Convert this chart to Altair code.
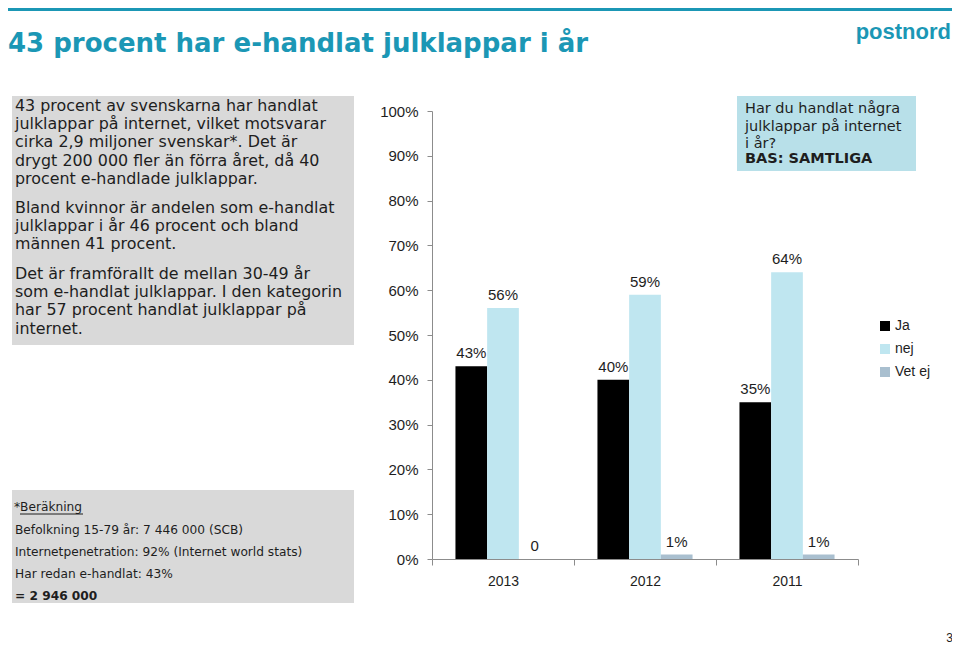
import altair as alt
import pandas as pd

# ---------------- data ----------------
years = ["2013", "2012", "2011"]
series = ["Ja", "nej", "Vet ej"]
ja_values = [43, 40, 35]
nej_values = [56, 59, 64]
vetej_values = [0, 1, 1]
y_ticks = [0, 10, 20, 30, 40, 50, 60, 70, 80, 90, 100]
series_colors = ["#000000", "#bfe6f0", "#a9bfcf"]

title_text = "43 procent har e-handlat julklappar i år"
logo_text = "postnord"
para1 = ["43 procent av svenskarna har handlat",
         "julklappar på internet, vilket motsvarar",
         "cirka 2,9 miljoner svenskar*. Det är",
         "drygt 200 000 fler än förra året, då 40",
         "procent e-handlade julklappar."]
para2 = ["Bland kvinnor är andelen som e-handlat",
         "julklappar i år 46 procent och bland",
         "männen 41 procent."]
para3 = ["Det är framförallt de mellan 30-49 år",
         "som e-handlat julklappar. I den kategorin",
         "har 57 procent handlat julklappar på",
         "internet."]
question_lines = ["Har du handlat några", "julklappar på internet", "i år?"]
question_base = "BAS: SAMTLIGA"
footer_head = "*Beräkning"
footer_lines = ["Befolkning 15-79 år: 7 446 000 (SCB)",
                "Internetpenetration: 92% (Internet world stats)",
                "Har redan e-handlat: 43%"]
footer_total = "= 2 946 000"
page_number = "3"

# ---------------- layout ----------------
OX, OY = 432, 111          # page position of plot origin
PW, PH = 426, 448          # plot area
CW, CH = 944, 636          # canvas
FONT = "Liberation Sans"
WIDE = "DejaVu Sans"
TEAL = "#1b97b5"
TXT = "#1e1e1e"

rows = []
for yi, yr in enumerate(years):
    for s, vals in zip(series, [ja_values, nej_values, vetej_values]):
        v = vals[yi]
        rows.append({"year": yr, "series": s, "value": v,
                     "label": "0" if v == 0 else f"{v}%"})
df = pd.DataFrame(rows)

xenc = alt.X("year:N", sort=years,
             scale=alt.Scale(paddingInner=0, paddingOuter=0),
             axis=alt.Axis(title=None, labelAngle=0, tickBand="extent",
                           tickSize=6, labelPadding=9, labelFontSize=14,
                           labelFont=FONT, labelColor=TXT,
                           domainColor="#8c8c8c", tickColor="#8c8c8c"))
xoff = alt.XOffset("series:N", sort=series,
                   scale=alt.Scale(paddingInner=0, paddingOuter=0.74))
yenc = alt.Y("value:Q", scale=alt.Scale(domain=[0, 100]),
             axis=alt.Axis(title=None, values=y_ticks, grid=False,
                           labelExpr="datum.value + '%'", tickSize=5,
                           labelPadding=9, labelFontSize=15, labelFont=FONT,
                           labelColor=TXT, domainColor="#8c8c8c",
                           tickColor="#8c8c8c"))

bars = alt.Chart(df).mark_bar().encode(
    x=xenc, xOffset=xoff, y=yenc,
    color=alt.Color("series:N", sort=series,
                    scale=alt.Scale(domain=series, range=series_colors),
                    legend=alt.Legend(orient="none", legendX=446, legendY=208,
                                      title=None, symbolType="square",
                                      symbolSize=100, symbolStrokeWidth=0,
                                      labelFontSize=14, labelFont=FONT,
                                      labelColor=TXT, rowPadding=9,
                                      labelOffset=3)))

labels = alt.Chart(df).mark_text(dy=-13, fontSize=15, font=FONT,
                                 color=TXT).encode(
    x=alt.X("year:N", sort=years), xOffset=alt.XOffset("series:N", sort=series),
    y="value:Q", text="label:N")


def one():
    return pd.DataFrame({"a": [0]})


def box(x1, y1, x2, y2, color):
    return alt.Chart(one()).mark_rect(color=color).encode(
        x=alt.value(x1 - OX), x2=alt.value(x2 - OX),
        y=alt.value(y1 - OY), y2=alt.value(y2 - OY))


def hline(x1, x2, y, color, width):
    return alt.Chart(one()).mark_rule(color=color, strokeWidth=width).encode(
        x=alt.value(x1 - OX), x2=alt.value(x2 - OX), y=alt.value(y - OY))


def text(lines, x, y, size, color=TXT, bold=False, align="left",
         lh=None, baseline="middle", font=WIDE):
    t = "\n".join(lines) if isinstance(lines, list) else lines
    kw = dict(fontSize=size, font=font, color=color, align=align,
              baseline=baseline, fontWeight="bold" if bold else "normal")
    if lh is not None:
        kw.update(lineBreak="\n", lineHeight=lh)
    return alt.Chart(pd.DataFrame({"t": [t]})).mark_text(**kw).encode(
        text="t:N", x=alt.value(x - OX), y=alt.value(y - OY))


layers = [
    hline(8, 952, 9.5, TEAL, 3),
    text(title_text, 8, 44, 26, color=TEAL, bold=True),
    text(logo_text, 951, 32, 22, color=TEAL, bold=True, align="right",
         font=FONT),
    box(12, 96, 354, 345, "#d9d9d9"),
    text(para1, 15, 111, 15.9, lh=18.2, baseline="alphabetic"),
    text(para2, 15, 213, 15.9, lh=18.2, baseline="alphabetic"),
    text(para3, 15, 279, 15.9, lh=18.2, baseline="alphabetic"),
    box(12, 490, 354, 603, "#d9d9d9"),
    text(footer_head, 14, 507, 12.2),
    hline(20, 83, 514, TXT, 1),
    text(footer_lines, 15, 534, 12.2, lh=22, baseline="alphabetic"),
    text(footer_total, 15, 596, 12.2, bold=True),
    box(737, 96, 916, 171, "#b8e0e9"),
    text(question_lines, 745, 113, 14.5, lh=17.5, baseline="alphabetic"),
    text(question_base, 745, 159, 14.5, bold=True),
    text(page_number, 953, 638, 12, align="right", font=FONT),
    bars,
    labels,
]

chart = alt.layer(*layers).properties(
    width=PW, height=PH,
    padding={"left": OX - 8, "top": OY - 8,
             "right": CW - (OX - 8) - PW, "bottom": CH - (OY - 8) - PH},
    autosize=alt.AutoSizeParams(type="none"),
).configure_view(stroke=None)

chart.save("out.html", embed_options={"renderer": "svg", "actions": False})
